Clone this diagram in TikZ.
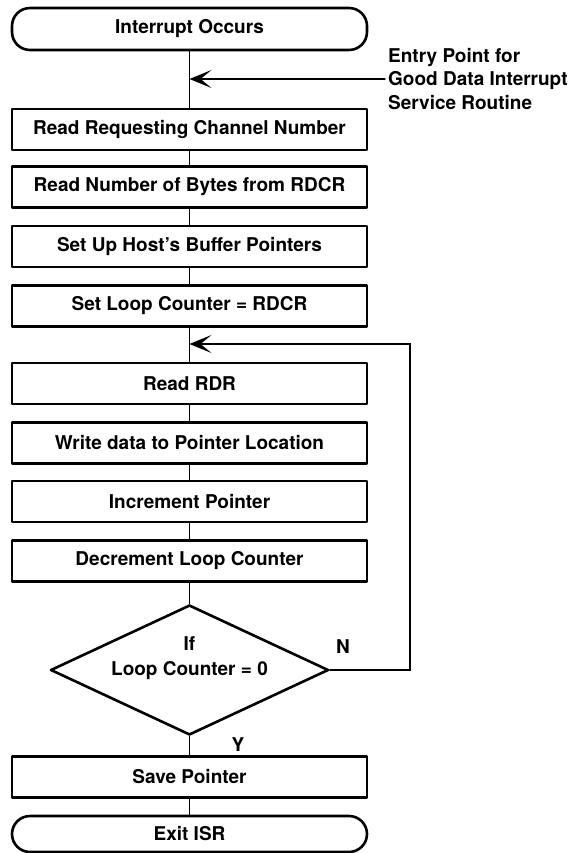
\documentclass[tikz,border=0pt]{standalone}
\usepackage{fontspec}
\setmainfont{TeX Gyre Heros}
\usetikzlibrary{arrows.meta,shapes.geometric}
\begin{document}
\begin{tikzpicture}[x=1pt, y=-1pt, font=\bfseries\fontsize{19}{23.5}\selectfont, line join=round, line cap=round,
		>={Stealth[length=22pt,width=18pt,inset=11pt]},
		stepbox/.style={draw, line width=2.6pt, minimum width=355pt, minimum height=41pt, inner sep=0pt},
		ends/.style={stepbox, rounded corners=18pt},
		test/.style={draw, diamond, line width=2.6pt, aspect=2.14, minimum width=278pt, minimum height=130pt, inner sep=0pt},
		link/.style={line width=1.4pt}]
			\def\xc{189.5}
			\def\xr{410}
			\def\yl{344}
			\useasboundingbox (0,0) rectangle (573,853);
			\node[ends, minimum height=42pt] (start) at (\xc,29) {Interrupt Occurs};
			\node[stepbox] (b1) at (\xc,129.5) {Read Requesting Channel Number};
			\node[stepbox] (b2) at (\xc,187) {Read Number of Bytes from RDCR};
			\node[stepbox] (b3) at (\xc,246.5) {Set Up Host's Buffer Pointers};
			\node[stepbox] (b4) at (\xc,306) {Set Loop Counter = RDCR};
			\node[stepbox] (b5) at (\xc,383.5) {Read RDR};
			\node[stepbox] (b6) at (\xc,443) {Write data to Pointer Location};
			\node[stepbox] (b7) at (\xc,501.5) {Increment Pointer};
			\node[stepbox] (b8) at (\xc,561) {Decrement Loop Counter};
			\node[test, label={[align=center, yshift=12pt]center:If\\[2pt]Loop Counter = 0}] (cond) at (\xc,670) {};
			\node[stepbox] (b9) at (\xc,777) {Save Pointer};
			\node[ends, minimum height=36pt] (stop) at (\xc,834) {Exit ISR};
			\node[anchor=west, align=left, inner sep=0pt] (note) at (388,79) {Entry Point for\\Good Data Interrupt\\Service Routine};
			\node (no) at (343,647) {N};
			\node (yes) at (238,745) {Y};
			\foreach \a/\b in {start/b1, b1/b2, b2/b3, b3/b4, b4/b5, b5/b6, b6/b7, b7/b8, b8/cond, cond/b9, b9/stop}
				\draw[link] (\a.south) -- (\b.north);
			\draw[link,->] ([xshift=-3pt]note.west) -- (note.west -| start.south);
			\coordinate (back) at (\xr,\yl);
			\draw[link,->,line join=miter] (cond.east) -| (back) -- (back -| b5.north);
		\end{tikzpicture}
\end{document}
